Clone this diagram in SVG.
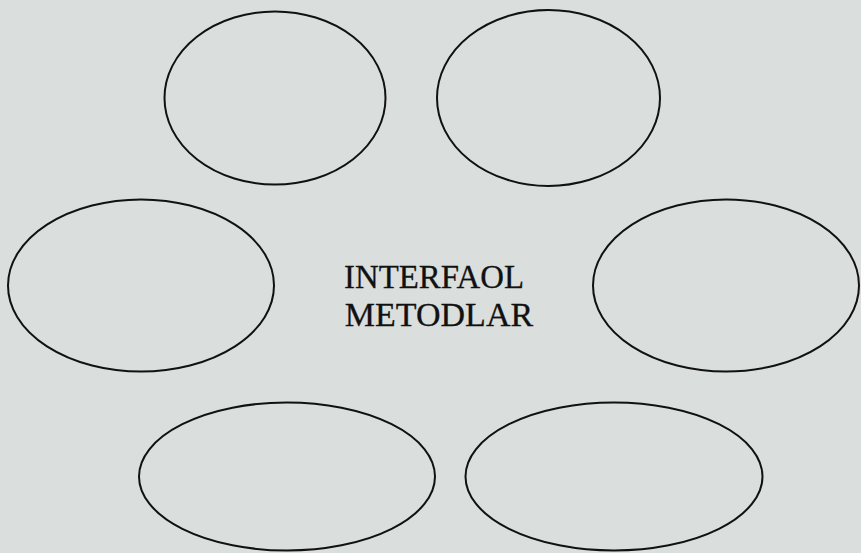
<svg xmlns="http://www.w3.org/2000/svg" width="861" height="553" viewBox="0 0 861 553">
<style>
.node ellipse{fill:none;stroke:#111;stroke-width:2}
.lbl{font-family:"Liberation Serif","Times New Roman",serif;font-size:34px;fill:#111;stroke:#111;stroke-width:0.3;text-anchor:middle}
</style>
<rect x="0" y="0" width="861" height="553" fill="#dadedc"/>
<g id="connectors"></g>
<g id="node-top-left" class="node"><ellipse cx="275" cy="98" rx="110.5" ry="86.5"/></g>
<g id="node-top-right" class="node"><ellipse cx="548.5" cy="98" rx="111.5" ry="88"/></g>
<g id="node-mid-left" class="node"><ellipse cx="141" cy="285.5" rx="133" ry="86"/></g>
<g id="node-mid-right" class="node"><ellipse cx="726" cy="285.5" rx="133" ry="86"/></g>
<g id="node-bottom-left" class="node"><ellipse cx="287" cy="476.5" rx="148" ry="74"/></g>
<g id="node-bottom-right" class="node"><ellipse cx="614" cy="476.5" rx="148.5" ry="74"/></g>
<g id="center">
<text class="lbl" x="434" y="288" textLength="180" lengthAdjust="spacingAndGlyphs">INTERFAOL</text>
<text class="lbl" x="439" y="326">METODLAR</text>
</g>
</svg>
